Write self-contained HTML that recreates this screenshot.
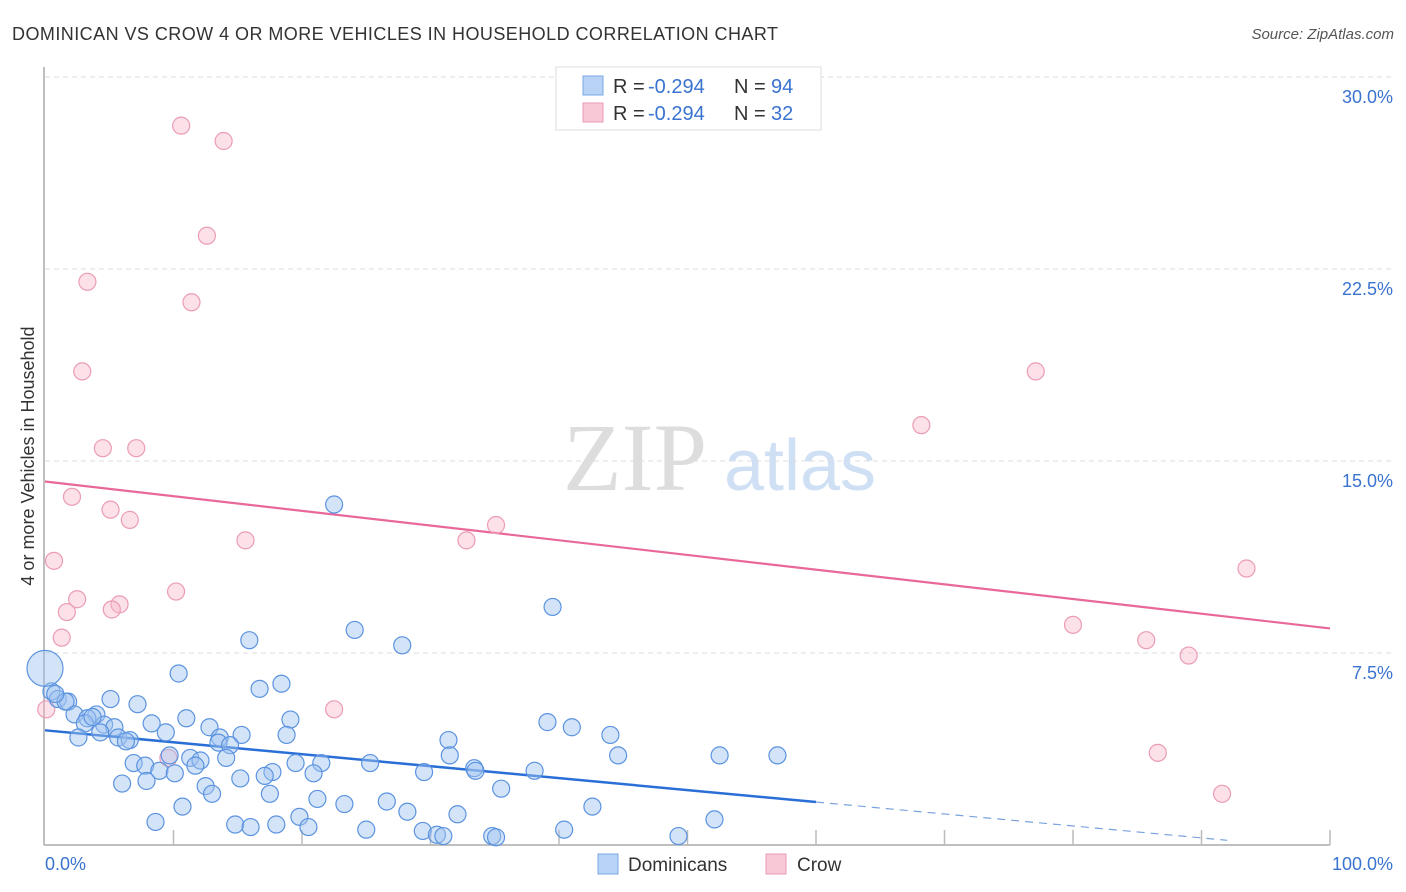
<!DOCTYPE html>
<html><head><meta charset="utf-8"><style>
body{margin:0;background:#fff;font-family:"Liberation Sans",sans-serif;}
svg{display:block}
</style></head><body>
<svg id="chart" width="1406" height="892" xmlns="http://www.w3.org/2000/svg">
<text x="12" y="40" font-size="18" fill="#333" textLength="766" lengthAdjust="spacing">DOMINICAN VS CROW 4 OR MORE VEHICLES IN HOUSEHOLD CORRELATION CHART</text>
<text x="1394" y="39" font-size="15" fill="#555" font-style="italic" text-anchor="end">Source: ZipAtlas.com</text>
<text x="34" y="456" font-size="18" fill="#333" text-anchor="middle" transform="rotate(-90 34 456)">4 or more Vehicles in Household</text>
<g><text x="635" y="490" font-size="96" fill="#ddd" font-family="Liberation Serif,serif" text-anchor="middle">ZIP</text><text x="800" y="490" font-size="72" fill="#cfe0f5" text-anchor="middle">atlas</text></g>
<g id="grid"></g><g id="axes"></g><g id="lines"></g><g id="pts"></g>
<g>
<rect x="556" y="67" width="265" height="63" fill="#fff" stroke="#ddd"/>
<rect x="583" y="76" width="20" height="19" fill="#b8d3f5" stroke="#7aa8e8"/>
<rect x="583" y="103" width="20" height="19" fill="#f9c8d6" stroke="#ea9ab2"/>
<text x="613" y="93" font-size="20" fill="#333">R =</text><text x="648" y="93" font-size="20" fill="#3a73d0">-0.294</text>
<text x="734" y="93" font-size="20" fill="#333">N =</text><text x="771" y="93" font-size="20" fill="#3a73d0">94</text>
<text x="613" y="120" font-size="20" fill="#333">R =</text><text x="648" y="120" font-size="20" fill="#3a73d0">-0.294</text>
<text x="734" y="120" font-size="20" fill="#333">N =</text><text x="771" y="120" font-size="20" fill="#3a73d0">32</text>
</g>
<g>
<rect x="598" y="854" width="20" height="20" fill="#b8d3f5" stroke="#7aa8e8"/>
<text x="628" y="871" font-size="19" fill="#333">Dominicans</text>
<rect x="766" y="854" width="20" height="20" fill="#f9c8d6" stroke="#ea9ab2"/>
<text x="797" y="871" font-size="19" fill="#333">Crow</text>
</g>
</svg>
<script>
const yTicks=[7.5,15,22.5,30];
const yTickLabels=["7.5%","15.0%","22.5%","30.0%"];
const xLabels=["0.0%","100.0%"];
const blueX=[22.5,39.5,24.1,15.9,27.8,10.4,18.4,16.7,0.5,5.1,1.0,1.8,7.2,4.0,2.3,3.3,11.0,19.1,39.1,8.3,3.1,4.6,41.0,5.4,12.8,9.4,4.3,15.3,18.8,44.0,13.6,2.6,5.7,6.6,31.4,6.3,13.5,14.4,44.6,52.5,57.0,31.5,9.7,11.3,12.1,14.1,19.5,21.5,25.3,6.9,7.8,11.7,33.4,33.5,38.1,8.9,10.1,29.5,20.9,17.7,17.1,15.2,7.9,6.0,12.5,35.5,13.0,17.5,21.2,26.6,23.3,10.7,42.6,28.2,32.1,19.8,8.6,52.1,14.8,16.0,18.0,20.5,25.0,29.4,30.5,31.0,34.8,35.1,40.4,49.3,1.6,3.7,0.8];
const blueY=[13.3,9.3,8.4,8.0,7.8,6.7,6.3,6.1,6.0,5.7,5.7,5.6,5.5,5.1,5.1,4.95,4.95,4.9,4.8,4.75,4.75,4.7,4.6,4.6,4.6,4.4,4.4,4.3,4.3,4.3,4.2,4.2,4.2,4.1,4.1,4.05,4.0,3.9,3.5,3.5,3.5,3.5,3.5,3.4,3.3,3.4,3.2,3.2,3.2,3.2,3.1,3.1,3.0,2.9,2.9,2.9,2.8,2.85,2.8,2.85,2.7,2.6,2.5,2.4,2.3,2.2,2.0,2.0,1.8,1.7,1.6,1.5,1.5,1.3,1.2,1.1,0.9,1.0,0.8,0.7,0.8,0.7,0.6,0.55,0.4,0.35,0.35,0.3,0.6,0.35,5.6,5.0,5.9];
const pinkX=[10.6,13.9,12.6,3.3,11.4,2.9,4.5,7.1,2.1,5.1,6.6,15.6,0.7,10.2,2.5,5.8,5.2,1.7,1.3,22.5,0.1,9.6,35.1,32.8,77.1,68.2,93.5,80.0,85.7,89.0,86.6,91.6];
const pinkY=[28.1,27.5,23.8,22.0,21.2,18.5,15.5,15.5,13.6,13.1,12.7,11.9,11.1,9.9,9.6,9.4,9.2,9.1,8.1,5.3,5.3,3.4,12.5,11.9,18.5,16.4,10.8,8.6,8.0,7.4,3.6,2.0];
const bigBlue=[0,6.9];
const blueFit=[4.48,-0.0467];
const pinkFit=[14.2,-0.0574];
const NS="http://www.w3.org/2000/svg";
const X=v=>45+v*12.85, Y=v=>845-v*25.6;
function mk(p,tag,a){const e=document.createElementNS(NS,tag);for(const k in a)e.setAttribute(k,a[k]);document.getElementById(p).appendChild(e);return e;}
yTicks.forEach((t,i)=>{
 const l=mk('grid','line',{x1:45,x2:1395,y1:Y(t),y2:Y(t),stroke:'#ddd','stroke-dasharray':'5,4'});
 
 
 const tx=mk('grid','text',{x:1393,y:Y(t)+26,'font-size':18,fill:'#3a73d0','text-anchor':'end'});tx.textContent=yTickLabels[i];
 
 
});
mk('axes','line',{x1:44,x2:44,y1:67,y2:845,stroke:'#aaa','stroke-width':1.5});
mk('axes','line',{x1:44,x2:1330,y1:845,y2:845,stroke:'#aaa','stroke-width':1.5});
for(let i=1;i<=10;i++){const t=mk('axes','line',{x1:X(i*10),x2:X(i*10),y1:830,y2:845,stroke:'#bbb','stroke-width':1.5});
 
 }
const xl0=mk('axes','text',{x:45,y:870,'font-size':18,fill:'#3a73d0'});xl0.textContent=xLabels[0];


const xl1=mk('axes','text',{x:1393,y:870,'font-size':18,fill:'#3a73d0','text-anchor':'end'});xl1.textContent=xLabels[1];


const bf=v=>blueFit[0]+blueFit[1]*v, pf=v=>pinkFit[0]+pinkFit[1]*v;
pinkX.forEach((v,i)=>{const c=mk('pts','circle',{cx:X(v),cy:Y(pinkY[i]),r:8.5,fill:'rgba(247,180,200,0.4)',stroke:'#eb9cb4','stroke-width':1.2});
 
 });
blueX.forEach((v,i)=>{const c=mk('pts','circle',{cx:X(v),cy:Y(blueY[i]),r:8.5,fill:'rgba(160,196,240,0.45)',stroke:'#5b93e0','stroke-width':1.2});
 
 });
const bb=mk('pts','circle',{cx:X(bigBlue[0]),cy:Y(bigBlue[1]),r:18,fill:'rgba(160,196,240,0.45)',stroke:'#5b93e0','stroke-width':1.2});


const l1=mk('lines','line',{x1:X(0),y1:Y(bf(0)),x2:X(60),y2:Y(bf(60)),stroke:'#2a6fd6','stroke-width':2.5});


const l2=mk('lines','line',{x1:X(60),y1:Y(bf(60)),x2:X(92),y2:Y(bf(92)),stroke:'#7aa3dd','stroke-width':1.2,'stroke-dasharray':'8,6'});


const l3=mk('lines','line',{x1:X(0),y1:Y(pf(0)),x2:X(100),y2:Y(pf(100)),stroke:'#e8689a','stroke-width':2.2});


</script>
</body></html>
